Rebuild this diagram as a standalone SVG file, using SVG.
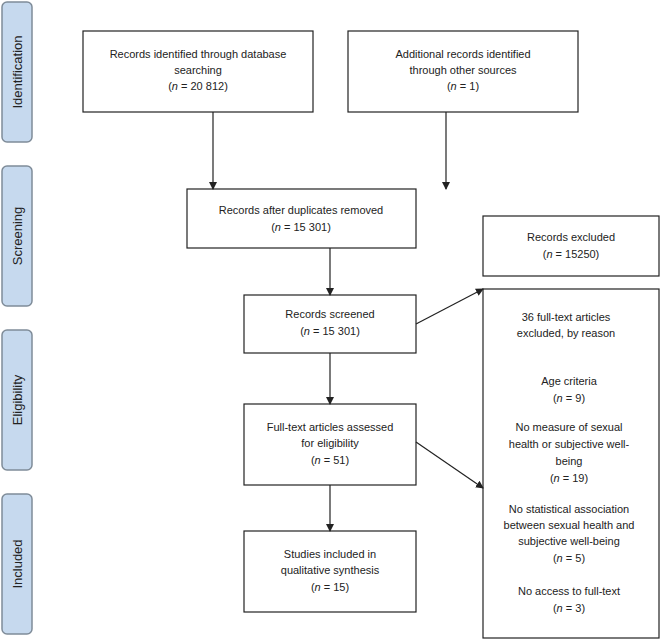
<svg xmlns="http://www.w3.org/2000/svg" width="660" height="639" viewBox="0 0 660 639">
<defs>
<style>
.side{fill:#c6d9ee;stroke:#7f8c99;stroke-width:1.5}
.box{fill:#fff;stroke:#222;stroke-width:1.2}
text{font-family:"Liberation Sans",Arial,sans-serif;font-size:11px;fill:#222;text-anchor:middle}
.lab{font-size:13px}
.c{stroke:#222;stroke-width:1.2;fill:none;marker-end:url(#ah)}
</style>
<marker id="ah" markerWidth="8" markerHeight="8" refX="7" refY="4" orient="auto" markerUnits="userSpaceOnUse">
<path d="M0,0 L8,4 L0,8 Z" fill="#222"/>
</marker>
</defs>
<rect width="660" height="639" fill="#fff"/>
<g id="sides">
<rect class="side" x="2" y="2" width="30" height="140" rx="5"/>
<text class="lab" transform="translate(22,72) rotate(-90)">Identification</text>
<rect class="side" x="2" y="166" width="30" height="140" rx="5"/>
<text class="lab" transform="translate(22,236) rotate(-90)">Screening</text>
<rect class="side" x="2" y="330" width="30" height="140" rx="5"/>
<text class="lab" transform="translate(22,400) rotate(-90)">Eligibility</text>
<rect class="side" x="2" y="494" width="30" height="140" rx="5"/>
<text class="lab" transform="translate(22,564) rotate(-90)">Included</text>
</g>
<g id="n1"><rect class="box" x="83" y="31" width="230" height="81"/>
<text x="198" y="58">Records identified through database</text><text x="198" y="74">searching</text><text x="198" y="90">(<tspan font-style="italic">n</tspan> = 20 812)</text></g>
<g id="n2"><rect class="box" x="348" y="31" width="230" height="81"/>
<text x="463" y="58">Additional records identified</text><text x="463" y="74">through other sources</text><text x="463" y="90">(<tspan font-style="italic">n</tspan> = 1)</text></g>
<g id="n3"><rect class="box" x="187" y="189" width="229" height="59"/>
<text x="301" y="214">Records after duplicates removed</text><text x="301" y="231">(<tspan font-style="italic">n</tspan> = 15 301)</text></g>
<g id="n4"><rect class="box" x="483" y="216" width="176" height="60"/>
<text x="571" y="241">Records excluded</text><text x="571" y="258">(<tspan font-style="italic">n</tspan> = 15250)</text></g>
<g id="n5"><rect class="box" x="244" y="295" width="172" height="58"/>
<text x="330" y="318">Records screened</text><text x="330" y="335">(<tspan font-style="italic">n</tspan> = 15 301)</text></g>
<g id="n6"><rect class="box" x="483" y="289" width="176" height="349"/>
<text x="566" y="321">36 full-text articles</text><text x="566" y="337">excluded, by reason</text>
<text x="569" y="385">Age criteria</text><text x="569" y="402">(<tspan font-style="italic">n</tspan> = 9)</text>
<text x="569" y="431">No measure of sexual</text><text x="569" y="448">health or subjective well-</text><text x="569" y="465">being</text><text x="569" y="482">(<tspan font-style="italic">n</tspan> = 19)</text>
<text x="569" y="513">No statistical association</text><text x="569" y="529">between sexual health and</text><text x="569" y="545">subjective well-being</text><text x="569" y="562">(<tspan font-style="italic">n</tspan> = 5)</text>
<text x="569" y="595">No access to full-text</text><text x="569" y="612">(<tspan font-style="italic">n</tspan> = 3)</text></g>
<g id="n7"><rect class="box" x="244" y="404" width="172" height="81"/>
<text x="330" y="431">Full-text articles assessed</text><text x="330" y="447">for eligibility</text><text x="330" y="464">(<tspan font-style="italic">n</tspan> = 51)</text></g>
<g id="n8"><rect class="box" x="244" y="531" width="172" height="81"/>
<text x="330" y="558">Studies included in</text><text x="330" y="574">qualitative synthesis</text><text x="330" y="591">(<tspan font-style="italic">n</tspan> = 15)</text></g>
<g id="connectors">
<line class="c" x1="213" y1="112" x2="213" y2="189"/>
<line class="c" x1="446" y1="112" x2="446" y2="189"/>
<line class="c" x1="330" y1="248" x2="330" y2="295"/>
<line class="c" x1="416" y1="324" x2="483" y2="289"/>
<line class="c" x1="330" y1="353" x2="330" y2="404"/>
<line class="c" x1="416" y1="442" x2="483" y2="488"/>
<line class="c" x1="330" y1="485" x2="330" y2="531"/>
</g>
</svg>
